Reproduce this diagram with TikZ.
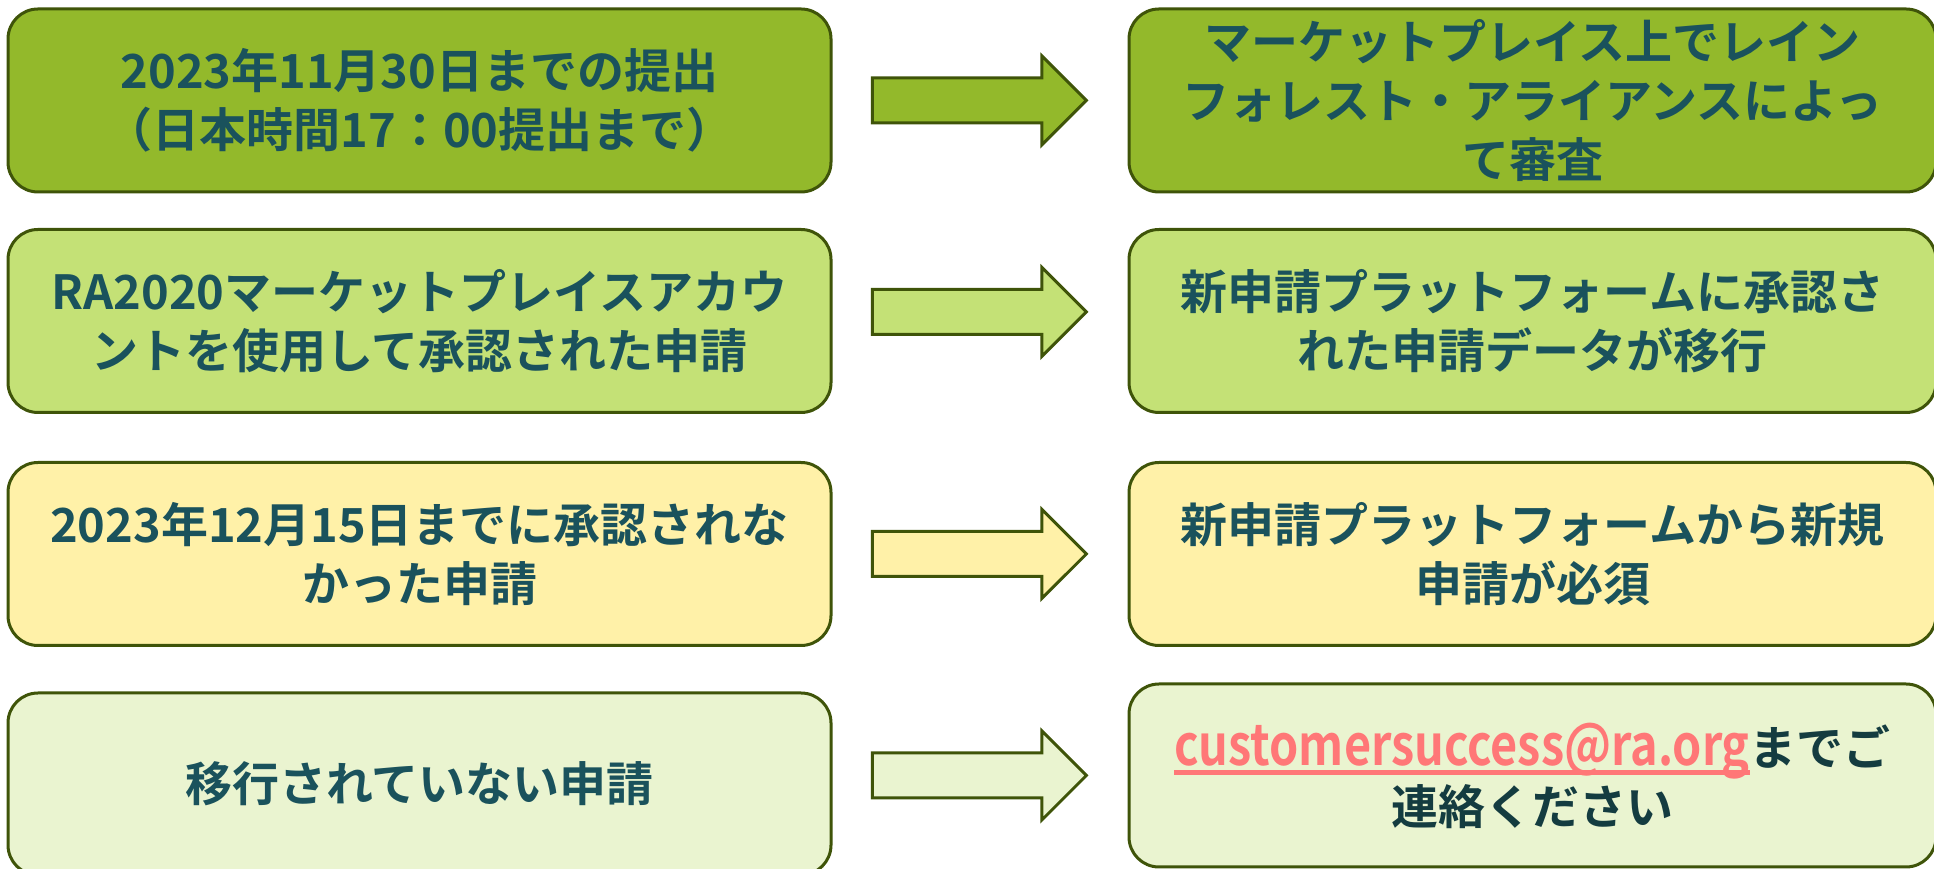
\documentclass[tikz,border=0pt]{standalone}
\usepackage{fontspec}
\usetikzlibrary{positioning,shapes.arrows}

\newfontfamily\jpfont{Noto Sans CJK JP Bold}
\newfontfamily\mailfont[FakeStretch=0.83,Scale=1.2]{Noto Sans CJK JP Bold}

\definecolor{stepdark}{RGB}{147,185,43}
\definecolor{steplight}{RGB}{196,225,118}
\definecolor{stepyellow}{RGB}{255,241,168}
\definecolor{steppale}{RGB}{234,244,208}
\definecolor{boxline}{RGB}{63,84,9}
\definecolor{ink}{RGB}{26,82,92}
\definecolor{inkdark}{RGB}{20,60,64}
\definecolor{mailpink}{RGB}{255,119,119}

\newcommand\maillink[1]{{\color{mailpink}\mailfont\setbox0\hbox{#1}\rlap{\rule[-10pt]{\wd0}{5pt}}\box0}}

\tikzstyle{block} = [rectangle, draw=boxline, line width=3pt, rounded corners=30pt,
    text=ink, align=center, inner sep=0pt, minimum height=183pt,
    font=\jpfont\fontsize{47pt}{59pt}\selectfont]
\tikzstyle{leftblock} = [block, minimum width=823pt]
\tikzstyle{rightblock} = [block, minimum width=807pt]
\tikzstyle{bigarrow} = [single arrow, draw=boxline, line width=3pt, minimum height=214pt,
    inner xsep=0pt, inner ysep=21pt, single arrow head extend=22pt, single arrow tip angle=90]

\begin{document}
\begin{tikzpicture}[x=1pt, y=1pt, node distance=295pt]
    \useasboundingbox (0,0) rectangle (1934,869);
    % Place nodes
    \node [leftblock, fill=stepdark] (submit) at (419.5,768.5) {2023年11月30日までの提出\\（日本時間17：00提出まで）};
    \node [rightblock, fill=stepdark, right=of submit] (review) {マーケットプレイス上でレイン\\フォレスト・アライアンスによっ\\て審査};

    \node [leftblock, fill=steplight] (approved) at (419.5,548) {RA2020マーケットプレイスアカウ\\ントを使用して承認された申請};
    \node [rightblock, fill=steplight, right=of approved] (migrate) {新申請プラットフォームに承認さ\\れた申請データが移行};

    \node [leftblock, fill=stepyellow] (pending) at (419.5,315) {2023年12月15日までに承認されな\\かった申請};
    \node [rightblock, fill=stepyellow, right=of pending] (reapply) {新申請プラットフォームから新規\\申請が必須};

    \node [leftblock, fill=steppale, minimum height=182pt] (unmigrated) at (419.5,85) {移行されていない申請};
    \node [rightblock, fill=steppale, right=of unmigrated, yshift=8.5pt, text=inkdark] (contact) {\maillink{customersuccess@ra.org}までご\\連絡ください};

    % Arrows
    \node [bigarrow, fill=stepdark, left=39pt of review] (arrow1) {};
    \node [bigarrow, fill=steplight, left=39pt of migrate, yshift=9pt] (arrow2) {};
    \node [bigarrow, fill=stepyellow, left=39pt of reapply] (arrow3) {};
    \node [bigarrow, fill=steppale, left=39pt of contact] (arrow4) {};

\end{tikzpicture}
\end{document}
